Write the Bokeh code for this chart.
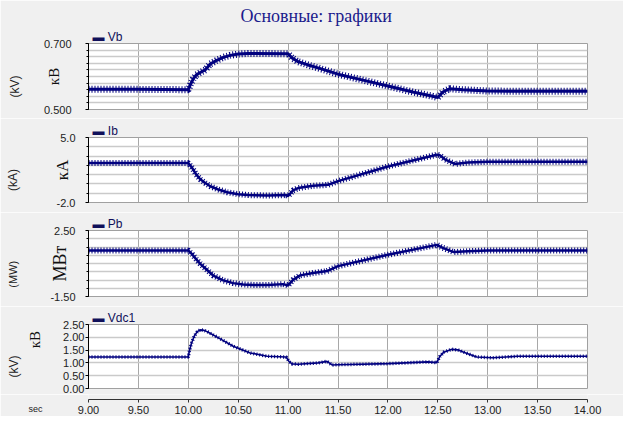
import math
from bokeh.plotting import figure
from bokeh.layouts import column
from bokeh.models import (Range1d, FixedTicker, NumeralTickFormatter, LinearAxis, Title)
from bokeh.embed import file_html
from bokeh.resources import INLINE

# ---------------- data ----------------
title_text = "Основные: графики"
x_ticks = [9.0, 9.5, 10.0, 10.5, 11.0, 11.5, 12.0, 12.5, 13.0, 13.5, 14.0]

vb_t = [9.0, 9.5, 10.0, 10.02, 10.05, 10.08, 10.12, 10.17, 10.22, 10.28, 10.35, 10.42, 10.5, 10.6,
        11.0, 11.04, 11.1, 11.2, 11.3, 11.5, 11.75, 12.0, 12.25, 12.45, 12.5, 12.55, 12.62, 12.75,
        13.0, 13.5, 14.0]
vb = [0.561, 0.561, 0.560, 0.575, 0.593, 0.605, 0.612, 0.620, 0.638, 0.648, 0.658, 0.664, 0.668, 0.670,
      0.669, 0.656, 0.645, 0.635, 0.626, 0.607, 0.589, 0.571, 0.553, 0.540, 0.536, 0.553, 0.563, 0.560,
      0.556, 0.555, 0.555]

ib_t = [9.0, 10.0, 10.04, 10.08, 10.12, 10.17, 10.22, 10.3, 10.39, 10.5, 10.6, 10.8, 10.98, 11.0,
        11.05, 11.1, 11.25, 11.4, 11.5, 12.0, 12.49, 12.52, 12.57, 12.67, 12.8, 13.0, 14.0]
ib = [2.25, 2.25, 1.7, 1.0, 0.5, 0.1, -0.25, -0.6, -0.9, -1.1, -1.2, -1.25, -1.2, -1.3,
      -0.7, -0.45, -0.2, -0.1, 0.3, 1.88, 3.15, 3.1, 2.65, 2.15, 2.3, 2.38, 2.38]

pb_t = [9.0, 10.0, 10.04, 10.08, 10.12, 10.18, 10.25, 10.35, 10.45, 10.55, 10.65, 10.8, 10.95, 11.0,
        11.05, 11.12, 11.25, 11.39, 11.5, 12.0, 12.49, 12.55, 12.66, 12.8, 13.0, 14.0]
pb = [1.29, 1.29, 1.05, 0.75, 0.48, 0.15, -0.23, -0.52, -0.69, -0.77, -0.8, -0.8, -0.75, -0.83,
      -0.49, -0.22, -0.08, 0.04, 0.34, 1.03, 1.63, 1.45, 1.19, 1.24, 1.29, 1.29]

vdc_t = [9.0, 10.0, 10.01, 10.03, 10.06, 10.09, 10.12, 10.16, 10.2, 10.32, 10.45, 10.62, 10.79, 10.98,
         11.01, 11.04, 11.1, 11.3, 11.39, 11.44, 11.5, 12.0, 12.4, 12.49, 12.52, 12.56, 12.64, 12.7,
         12.76, 12.89, 13.05, 13.3, 14.0]
vdc = [1.23, 1.23, 1.45, 1.75, 2.05, 2.22, 2.29, 2.27, 2.20, 1.94, 1.65, 1.39, 1.26, 1.23,
       1.05, 0.96, 0.95, 1.00, 1.06, 0.92, 0.93, 0.97, 1.04, 1.01, 1.25, 1.42, 1.53, 1.51,
       1.42, 1.23, 1.20, 1.26, 1.26]

vb_ticks = [0.5, 0.7]
vb_grid = [0.50, 0.52, 0.54, 0.56, 0.58, 0.60, 0.62, 0.64, 0.66, 0.68, 0.70]
ib_ticks = [-2.0, 5.0]
ib_grid = [-2.0, -1.0, 0.0, 1.0, 2.0, 3.0, 4.0, 5.0]
pb_ticks = [-1.5, 2.5]
pb_grid = [-1.5, -1.0, -0.5, 0.0, 0.5, 1.0, 1.5, 2.0, 2.5]
vdc_ticks = [0.0, 0.5, 1.0, 1.5, 2.0, 2.5]
vdc_grid = [0.0, 0.5, 1.0, 1.5, 2.0, 2.5]

# ---------------- style ----------------
NAVY = "#00007f"
BG = "#f0f0f0"
FRAME_LEFT = 88
FRAME_W = 499
RIGHT = 36
SANS = "Liberation Sans"
SERIF = "Liberation Serif"
NB = "\u00a0"


def make_fig(ymin, ymax, top, fh, bottom, ticks, grid, fmt, standoff):
    p = figure(frame_width=FRAME_W, frame_height=fh,
               min_border_left=FRAME_LEFT, min_border_right=RIGHT,
               min_border_top=top, min_border_bottom=bottom,
               x_range=Range1d(9.0, 14.0), y_range=Range1d(ymin, ymax),
               x_axis_location=None, toolbar_location=None, output_backend="svg")
    p.background_fill_color = "white"
    p.border_fill_color = BG
    p.outline_line_color = "#a0a0a0"
    p.xgrid.ticker = FixedTicker(ticks=x_ticks)
    p.xgrid.grid_line_color = "#a8a8a8"
    p.ygrid.ticker = FixedTicker(ticks=grid)
    p.ygrid.grid_line_color = "#cacaca"
    p.ygrid.grid_line_width = 1.3
    ax = p.yaxis[0]
    ax.ticker = FixedTicker(ticks=ticks, minor_ticks=grid)
    ax.formatter = NumeralTickFormatter(format=fmt)
    ax.axis_line_color = "black"
    ax.major_tick_line_color = "black"
    ax.minor_tick_line_color = "black"
    ax.major_tick_out = 3
    ax.major_tick_in = 0
    ax.minor_tick_out = 2
    ax.minor_tick_in = 0
    ax.major_label_standoff = standoff
    ax.major_label_text_font = SANS
    ax.major_label_text_font_size = "11px"
    ax.major_label_text_color = "#222222"
    return p


def unit_labels(p, inner, inner_size, inner_standoff, outer, outer_size, outer_standoff):
    ax = p.yaxis[0]
    ax.axis_label = inner
    ax.axis_label_text_font = SERIF
    ax.axis_label_text_font_size = inner_size
    ax.axis_label_text_font_style = "normal"
    ax.axis_label_text_color = "#111111"
    ax.axis_label_standoff = inner_standoff
    ax2 = LinearAxis(ticker=FixedTicker(ticks=[]), axis_line_color=None,
                     major_tick_line_color=None, minor_tick_line_color=None,
                     axis_label=outer, axis_label_text_font=SANS,
                     axis_label_text_font_size=outer_size,
                     axis_label_text_font_style="normal",
                     axis_label_text_color="#222222",
                     axis_label_standoff=outer_standoff)
    p.add_layout(ax2, "left")


def series(p, t, v, base_w, tick_w, name):
    p.line(t, v, line_color=NAVY, line_width=base_w)
    p.line(t, v, line_color=NAVY, line_width=tick_w, line_dash="1 2", line_cap="butt")
    key = Title(text="▬ " + name, align="left", offset=4, standoff=0,
                text_font=SANS, text_font_size="12px", text_font_style="normal",
                text_color="#10105a")
    p.add_layout(key, "above")


# panel 1 : Vb   frame page y 43..109
p1 = make_fig(0.5, 0.7, 43, 66, 9, vb_ticks, vb_grid, "0.000", 14)
series(p1, vb_t, vb, 3, 7, "Vb")
unit_labels(p1, "кВ", "15px", -21, "(kV)" + NB * 6, "12px", 21)
p1.title.text = title_text
p1.title.text_font = SERIF
p1.title.text_font_size = "18px"
p1.title.text_font_style = "normal"
p1.title.text_color = "#1a1a8c"
p1.title.align = "left"
p1.title.offset = 152
p1.title.standoff = 4

# panel 2 : Ib   frame page y 137..202
p2 = make_fig(-2.0, 5.0, 19, 65, 10, ib_ticks, ib_grid, "0.0", 10)
series(p2, ib_t, ib, 2.5, 6, "Ib")
unit_labels(p2, "кА", "17px", -18, "(kA)" + NB * 6, "12px", 30)

# panel 3 : Pb   frame page y 230..296
p3 = make_fig(-1.5, 2.5, 18, 66, 10, pb_ticks, pb_grid, "0.00", 10)
series(p3, pb_t, pb, 2.5, 6, "Pb")
unit_labels(p3, "МВт", "18px", -23, "(MW)" + NB * 7, "11px", 29)

# panel 4 : Vdc1 frame page y 324..388
p4 = make_fig(0.0, 2.5, 18, 64, 6, vdc_ticks, vdc_grid, "0.00", 1)
series(p4, vdc_t, vdc, 1.6, 3.5, "Vdc1")
unit_labels(p4, NB * 9 + "кВ", "15px", 17, "(kV)" + NB * 6, "12px", 4)

# time axis strip: frame page y 394..399, axis below
p5 = figure(frame_width=FRAME_W, frame_height=5,
            min_border_left=FRAME_LEFT, min_border_right=RIGHT,
            min_border_top=0, min_border_bottom=16,
            x_range=Range1d(9.0, 14.0), y_range=Range1d(0, 1),
            toolbar_location=None, output_backend="svg")
p5.background_fill_color = BG
p5.border_fill_color = BG
p5.outline_line_color = None
p5.grid.visible = False
xa = p5.xaxis[0]
xa.ticker = FixedTicker(ticks=x_ticks, minor_ticks=[])
xa.formatter = NumeralTickFormatter(format="0.00")
xa.axis_line_color = "#333333"
xa.major_tick_line_color = "#333333"
xa.major_tick_out = 3
xa.major_tick_in = 0
xa.minor_tick_out = 0
xa.major_label_standoff = 3
xa.major_label_text_font = SANS
xa.major_label_text_font_size = "11px"
xa.major_label_text_color = "#222222"
ya = p5.yaxis[0]
ya.ticker = FixedTicker(ticks=[])
ya.axis_line_color = None
ya.major_tick_line_color = None
ya.minor_tick_line_color = None
ya.axis_label = "\n\nsec"
ya.axis_label_orientation = "horizontal"
ya.axis_label_text_font = SANS
ya.axis_label_text_font_size = "9px"
ya.axis_label_text_font_style = "normal"
ya.axis_label_text_color = "#222222"
ya.axis_label_standoff = 46

layout = column(p1, p2, p3, p4, p5, spacing=0)
open("out.html", "w").write(file_html(layout, INLINE))
